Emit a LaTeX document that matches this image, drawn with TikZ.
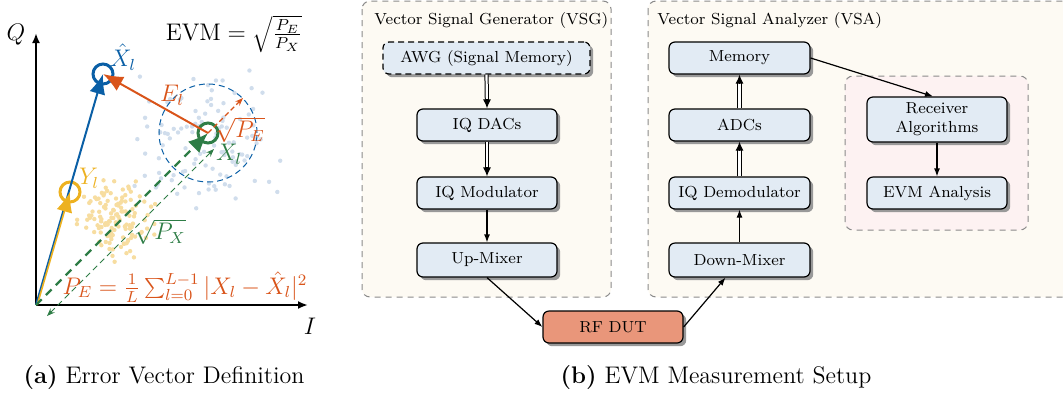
\documentclass[tikz,border=0pt]{standalone}
\usetikzlibrary{arrows.meta,shadows,calc}
\definecolor{blueC}{HTML}{0A5FA6}
\definecolor{orangeC}{HTML}{D9541A}
\definecolor{yellowC}{HTML}{EDB120}
\definecolor{greenC}{HTML}{2E7D46}
\definecolor{boxfill}{HTML}{E2EBF4}
\definecolor{dutfill}{HTML}{E9967A}
\definecolor{creamC}{HTML}{FDFAF3}
\definecolor{pinkC}{HTML}{FDF2F2}
\definecolor{grayB}{HTML}{8A8A8A}
\definecolor{dotblue}{HTML}{D0DDEC}
\definecolor{dotyellow}{HTML}{F7DDA0}
\begin{document}
\begin{tikzpicture}[x=0.5pt,y=-0.5pt,
  box/.style={draw=black, line width=0.6pt, rounded corners=3pt, fill=boxfill,
    minimum width=70pt, minimum height=16pt, inner sep=1pt,
    font=\fontsize{8}{9.6}\selectfont, align=center,
    drop shadow={shadow xshift=1.6pt, shadow yshift=-1.6pt, fill=black!40, opacity=1}},
  container/.style={draw=grayB, dashed, dash pattern=on 3pt off 2.5pt, line width=0.5pt, rounded corners=4pt},
  title/.style={font=\fontsize{8}{9.6}\selectfont, anchor=west, inner sep=0pt},
  arr/.style={-{Latex[length=4pt,width=3pt]}, line width=0.6pt},
  dblline/.style={double, double distance=1.1pt, line width=0.5pt, shorten >=4pt},
  dbltip/.style={-{Latex[length=4.5pt,width=4pt]}, line width=0.6pt},
  lab/.style={font=\fontsize{12}{14}\selectfont, inner sep=0pt},
  big/.style={-{Latex[length=10pt,width=8pt]}},
  ring/.style={circle, line width=1.5pt, minimum size=10pt, inner sep=0pt}
]
\useasboundingbox (0,0) rectangle (1063,392);
\clip (0,0) rectangle (1063,392);

% ---------------- left panel ----------------
\pgfmathsetseed{11}
\foreach \i in {1,...,110}{
  \pgfmathsetmacro\dx{62*(rand+rand)/1.5}
  \pgfmathsetmacro\dy{62*(rand+rand)/1.5}
  \fill[dotblue] (205+\dx,138+\dy) circle (1.1pt);
}
\foreach \i in {1,...,130}{
  \pgfmathsetmacro\dx{30*(rand+rand+rand)/1.7}
  \pgfmathsetmacro\dy{30*(rand+rand+rand)/1.7}
  \fill[dotyellow] (118+\dx,218+\dy) circle (1.1pt);
}

\coordinate (O) at (36,305);
\coordinate (Qend) at (36,33);
\coordinate (Iend) at (308,305);
\draw[line width=1pt, -{Latex[length=5pt,width=4pt]}] (O) -- (Qend);
\draw[line width=1pt, -{Latex[length=5pt,width=4pt]}] (O) -- (Iend);
\node[lab] (qlab) at (16,35) {$Q$};
\node[lab] (ilab) at (310,326) {$I$};

\node[ring, draw=blueC] (xh) at (103,74) {};
\node[ring, draw=yellowC] (yl) at (70,192) {};
\node[ring, draw=greenC] (xl) at (208,133) {};

\node[circle, draw=blueC, dashed, dash pattern=on 3pt off 2pt, line width=0.5pt, minimum size=49pt, inner sep=0pt] (pe) at (208,133) {};

\draw[blueC, line width=1pt, big] (O) -- (xh.center);
\draw[yellowC, line width=0.8pt, big] ([xshift=0.6pt]O) -- (yl.center);
\draw[greenC, line width=1.1pt, dashed, dash pattern=on 4pt off 3pt, big] (O) -- (xl.center);
\draw[orangeC, line width=1pt, big] (xl.center) -- (xh.center);
\draw[orangeC, line width=0.6pt, dashed, dash pattern=on 2.5pt off 1.5pt, -{Stealth[length=4pt,width=3pt]}] (xl.center) -- (pe.45);

\coordinate (pa) at (47,316);
\coordinate (pb) at (214,149);
\draw[greenC, line width=0.5pt, dashed, dash pattern=on 3pt off 2pt, {Stealth[length=4pt,width=3pt]}-{Stealth[length=4pt,width=3pt]}] (pa) -- (pb);

\node[lab, text=blueC] (xhlab) at (123,57) {$\hat{X}_l$};
\node[lab, text=yellowC] (ylab) at (89,178) {$Y_l$};
\node[lab, text=greenC] (xlab) at (229,154) {$X_l$};
\node[lab, text=orangeC] (elab) at (172,95) {$E_l$};
\node[lab, text=orangeC] (spe) at (240,130) {$\sqrt{P_E}$};
\node[lab, text=greenC] (spx) at (160,232) {$\sqrt{P_X}$};
\node[lab, text=orangeC] (pef) at (185,287) {$P_E=\frac{1}{L}\sum_{l=0}^{L-1}|X_l-\hat{X}_l|^2$};
\node[lab] (evmf) at (234,34) {$\mathrm{EVM}=\sqrt{\frac{P_E}{P_X}}$};

\node[lab] (capa) at (164,378) {\textbf{(a)} Error Vector Definition};

% ---------------- right panel ----------------
\draw[container, fill=creamC] (362,1) rectangle (611,297);
\draw[container, fill=creamC] (648,1) rectangle (1080,297);
\draw[container, fill=pinkC] (845,76) rectangle (1028,230);
\node[title] (vsg) at (374,20) {Vector Signal Generator (VSG)};
\node[title] (vsa) at (657,20) {Vector Signal Analyzer (VSA)};

\node[box, dashed, dash pattern=on 3pt off 2pt, minimum width=103.5pt] (awg) at (486.5,58) {AWG (Signal Memory)};
\node[box] (dac) at (487,125) {IQ DACs};
\node[box] (mod) at (487,193) {IQ Modulator};
\node[box, minimum height=17pt] (up) at (487,260) {Up-Mixer};
\node[box, fill=dutfill] (dut) at (613,327) {RF DUT};
\node[box, minimum width=70.5pt] (mem) at (739.5,58) {Memory};
\node[box, minimum width=70.5pt] (adc) at (739.5,125) {ADCs};
\node[box, minimum width=70.5pt] (demod) at (739.5,193) {IQ Demodulator};
\node[box, minimum width=70.5pt, minimum height=17pt] (down) at (739.5,260) {Down-Mixer};
\node[box, minimum height=22.5pt] (rx) at (937,119.5) {Receiver\\Algorithms};
\node[box] (evmA) at (937,193) {EVM Analysis};

% double arrows: double shaft + solid tip
\draw[dblline] (awg.south) -- (dac.north);
\draw[dbltip] ([yshift=4.5pt]dac.north) -- (dac.north);
\draw[dblline] (dac.south) -- (mod.north);
\draw[dbltip] ([yshift=4.5pt]mod.north) -- (mod.north);
\draw[dblline] (demod.north) -- (adc.south);
\draw[dbltip] ([yshift=-4.5pt]adc.south) -- (adc.south);
\draw[dblline] (adc.north) -- (mem.south);
\draw[dbltip] ([yshift=-4.5pt]mem.south) -- (mem.south);

\draw[arr] (mod) -- (up);
\draw[arr] (up.south) -- (dut.west);
\draw[arr] (dut.east) -- ([xshift=-7pt]down.south);
\draw[arr] (down) -- (demod);
\draw[arr] (mem.east) -- ([xshift=-2pt]rx.north);
\draw[arr] (rx) -- (evmA);

\node[lab] (capb) at (716,378) {\textbf{(b)} EVM Measurement Setup};
\end{tikzpicture}
\end{document}
